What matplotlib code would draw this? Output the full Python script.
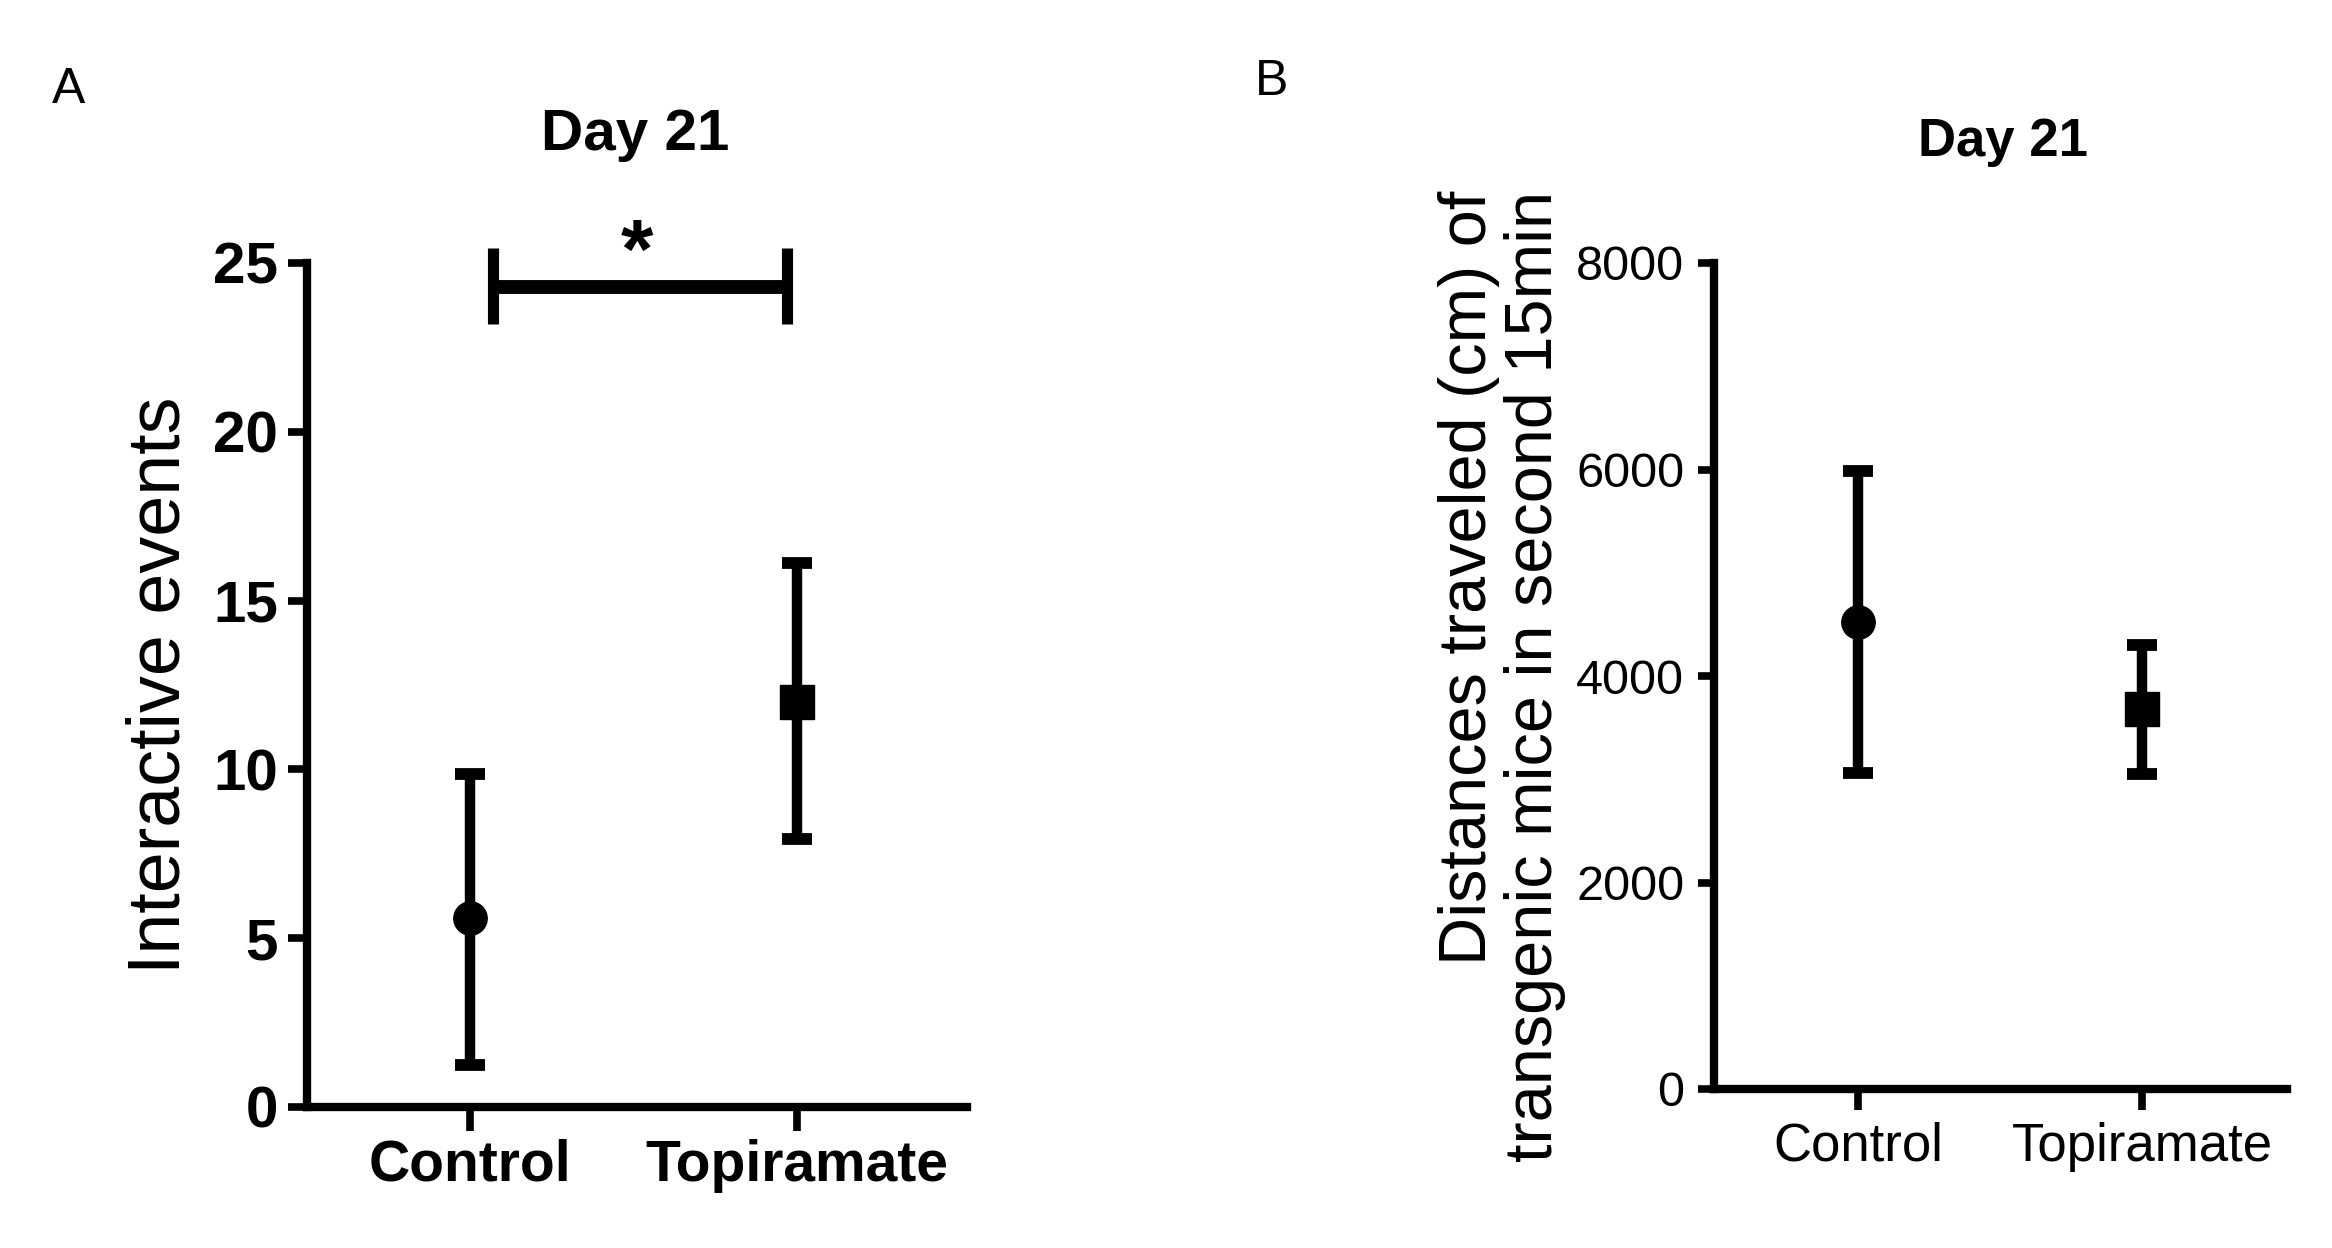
import matplotlib
matplotlib.use('Agg')
import matplotlib.pyplot as plt

plt.rcParams['font.family'] = ['Liberation Sans', 'DejaVu Sans']

groups = ["Control", "Topiramate"]
markers = ["o", "s"]

# panel A: interactive events (mean with range)
events_mean = [5.6, 12.0]
events_low = [1.25, 7.95]
events_high = [9.85, 16.1]
events_ticks = [0, 5, 10, 15, 20, 25]

# significance bar between the two groups
sig_x = [0.07, 0.97]
sig_y = 24.3
sig_cap = [23.2, 25.45]
sig_text = "*"

# panel B: distance travelled
dist_mean = [4520, 3680]
dist_low = [3060, 3050]
dist_high = [5990, 4300]
dist_ticks = [0, 2000, 4000, 6000, 8000]

W, H = 2332, 1248
fig = plt.figure(figsize=(W / 100, H / 100), dpi=100, facecolor="white")


def px_axes(left, right, bottom, top):
    return fig.add_axes([left / W, 1 - bottom / H, (right - left) / W, (bottom - top) / H])


def style_axes(ax):
    for side in ["top", "right"]:
        ax.spines[side].set_visible(False)
    for side in ["left", "bottom"]:
        ax.spines[side].set_linewidth(6)
        ax.spines[side].set_color("black")


def draw_points(ax, means, lows, highs):
    for i, (m, lo, hi, mk) in enumerate(zip(means, lows, highs, markers)):
        ax.errorbar([i], [m], yerr=[[m - lo], [hi - m]], fmt=mk, color="black",
                    markersize=24, elinewidth=7.5, capsize=11, capthick=8.5,
                    clip_on=False, zorder=3)


# ---- panel A ----
axA = px_axes(307, 967, 1107, 263)
style_axes(axA)
draw_points(axA, events_mean, events_low, events_high)
axA.set_xlim(-0.5, 1.52)
axA.set_ylim(0, 25)
axA.set_yticks(events_ticks)
axA.set_xticks(range(len(groups)))
axA.set_xticklabels(groups)
axA.tick_params(axis="y", length=14, width=5.5, pad=7, labelsize=42)
axA.tick_params(axis="x", length=17, width=5.5, pad=6, labelsize=41)
for lab in axA.get_xticklabels() + axA.get_yticklabels():
    lab.set_fontweight("bold")
axA.set_ylabel("Interactive events", fontsize=53)
axA.yaxis.set_label_coords(-0.222, 0.5)
axA.yaxis.label.set_va("center")

axA.plot(sig_x, [sig_y, sig_y], color="black", lw=10, solid_capstyle="butt", clip_on=False)
for xs in sig_x:
    axA.plot([xs, xs], sig_cap, color="black", lw=8, solid_capstyle="butt", clip_on=False)
axA.text(0.51, sig_y + 0.25, sig_text, ha="center", va="baseline", fontsize=60,
         fontweight="bold", clip_on=False)

fig.text(635 / W, 1 - 135 / H, "Day 21", ha="center", va="center",
         fontsize=42, fontweight="bold")
fig.text(69 / W, 1 - 90 / H, "A", ha="center", va="center", fontsize=36)

# ---- panel B ----
axB = px_axes(1714, 2287, 1089, 263)
style_axes(axB)
draw_points(axB, dist_mean, dist_low, dist_high)
axB.set_xlim(-0.507, 1.51)
axB.set_ylim(0, 8000)
axB.set_yticks(dist_ticks)
axB.set_xticks(range(len(groups)))
axB.set_xticklabels(groups)
axB.tick_params(axis="y", length=11.5, width=5.5, pad=10, labelsize=35)
axB.tick_params(axis="x", length=15, width=5.5, pad=8.5, labelsize=38)
axB.set_ylabel("Distances traveled (cm) of\ntransgenic mice in second 15min",
               fontsize=48, multialignment="right", linespacing=1.08)
axB.yaxis.set_label_coords(-0.37, 0.5)
axB.yaxis.label.set_va("center")

fig.text(2003 / W, 1 - 142 / H, "Day 21", ha="center", va="center",
         fontsize=38, fontweight="bold")
fig.text(1272 / W, 1 - 82 / H, "B", ha="center", va="center", fontsize=36)

fig.savefig("out.png", dpi=100, facecolor="white")
